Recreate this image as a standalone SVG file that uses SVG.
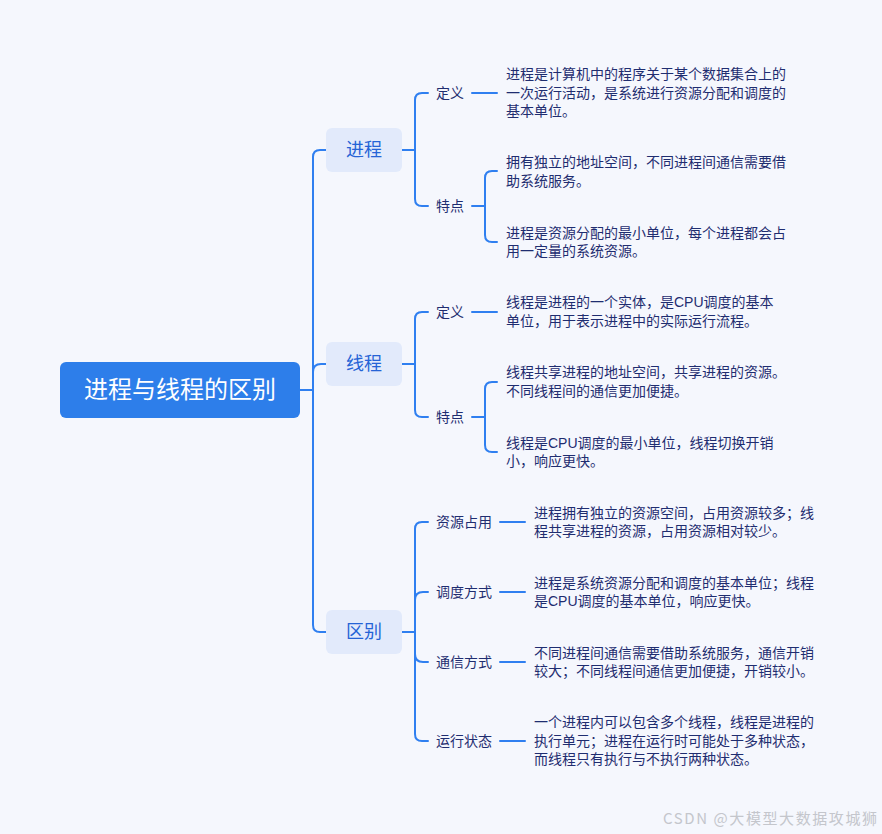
<svg xmlns="http://www.w3.org/2000/svg" width="882" height="834" viewBox="0 0 882 834">
<style>
.bg{fill:#f5f7fd}
.ln{fill:none;stroke:#2f7ff0;stroke-width:2;stroke-linecap:round}
.root{fill:#2d7eea}
.rt{fill:#ffffff;font-family:"Noto Sans CJK SC","Noto Sans",sans-serif;font-size:24px}
.br{fill:#e2eafb}
.bt{fill:#2563d6;font-family:"Noto Sans CJK SC","Noto Sans",sans-serif;font-size:18px}
.lb{fill:#1f2d70;font-family:"Noto Sans CJK SC","Noto Sans",sans-serif;font-size:14px}
.tx{fill:#1f2d70;font-family:"Liberation Sans","Noto Sans CJK SC",sans-serif;font-size:14px}
.wm{fill:#c4c6cc;font-family:"Noto Sans CJK SC","Noto Sans",sans-serif;font-size:15px}
</style>
<rect class="bg" x="0" y="0" width="882" height="834"/>
<g id="connectors">
<path class="ln" d="M300 390 H313"/>
<path class="ln" d="M326 150 H320 Q313 150 313 157 V625 Q313 632 320 632 H326"/>
<path class="ln" d="M313 372 Q313 364 321 364 H326"/>
<path class="ln" d="M402 150 H415"/>
<path class="ln" d="M428 93 H422 Q415 93 415 100 V199 Q415 206 422 206 H428"/>
<path class="ln" d="M472 93 H497"/>
<path class="ln" d="M472 206 H485"/>
<path class="ln" d="M497 171 H492 Q485 171 485 178 V235 Q485 242 492 242 H497"/>
<path class="ln" d="M402 364 H415"/>
<path class="ln" d="M428 312 H422 Q415 312 415 319 V410 Q415 417 422 417 H428"/>
<path class="ln" d="M472 312 H497"/>
<path class="ln" d="M472 417 H485"/>
<path class="ln" d="M497 382 H492 Q485 382 485 389 V445 Q485 452 492 452 H497"/>
<path class="ln" d="M402 632 H415"/>
<path class="ln" d="M428 522 H422 Q415 522 415 529 V734 Q415 741 422 741 H428"/>
<path class="ln" d="M415 600 Q415 592 423 592 H428"/>
<path class="ln" d="M415 654 Q415 662 423 662 H428"/>
<path class="ln" d="M500 522 H525"/>
<path class="ln" d="M500 592 H525"/>
<path class="ln" d="M500 662 H525"/>
<path class="ln" d="M500 741 H525"/>
</g>
<g id="root">
<rect class="root" x="60" y="362" width="240" height="56" rx="6"/>
<text class="rt" x="180" y="398" text-anchor="middle">进程与线程的区别</text>
</g>
<g id="n-process">
<rect class="br" x="326" y="128" width="76" height="44" rx="6"/>
<text class="bt" x="364" y="156" text-anchor="middle">进程</text>
</g>
<g id="n-process-def">
<text class="lb" x="436" y="98">定义</text>
<text class="tx"><tspan x="506" y="79">进程是计算机中的程序关于某个数据集合上的</tspan><tspan x="506" y="98">一次运行活动，是系统进行资源分配和调度的</tspan><tspan x="506" y="116">基本单位。</tspan></text>
</g>
<g id="n-process-feat">
<text class="lb" x="436" y="211">特点</text>
<text class="tx"><tspan x="506" y="167">拥有独立的地址空间，不同进程间通信需要借</tspan><tspan x="506" y="186">助系统服务。</tspan></text>
<text class="tx"><tspan x="506" y="238">进程是资源分配的最小单位，每个进程都会占</tspan><tspan x="506" y="256">用一定量的系统资源。</tspan></text>
</g>
<g id="n-thread">
<rect class="br" x="326" y="342" width="76" height="44" rx="6"/>
<text class="bt" x="364" y="370" text-anchor="middle">线程</text>
</g>
<g id="n-thread-def">
<text class="lb" x="436" y="317">定义</text>
<text class="tx"><tspan x="506" y="307">线程是进程的一个实体，是CPU调度的基本</tspan><tspan x="506" y="326">单位，用于表示进程中的实际运行流程。</tspan></text>
</g>
<g id="n-thread-feat">
<text class="lb" x="436" y="422">特点</text>
<text class="tx"><tspan x="506" y="377">线程共享进程的地址空间，共享进程的资源。</tspan><tspan x="506" y="396">不同线程间的通信更加便捷。</tspan></text>
<text class="tx"><tspan x="506" y="448">线程是CPU调度的最小单位，线程切换开销</tspan><tspan x="506" y="466">小，响应更快。</tspan></text>
</g>
<g id="n-diff">
<rect class="br" x="326" y="610" width="76" height="44" rx="6"/>
<text class="bt" x="364" y="638" text-anchor="middle">区别</text>
</g>
<g id="n-diff-res">
<text class="lb" x="436" y="527">资源占用</text>
<text class="tx"><tspan x="534" y="518">进程拥有独立的资源空间，占用资源较多；线</tspan><tspan x="534" y="536">程共享进程的资源，占用资源相对较少。</tspan></text>
</g>
<g id="n-diff-sched">
<text class="lb" x="436" y="597">调度方式</text>
<text class="tx"><tspan x="534" y="588">进程是系统资源分配和调度的基本单位；线程</tspan><tspan x="534" y="606">是CPU调度的基本单位，响应更快。</tspan></text>
</g>
<g id="n-diff-comm">
<text class="lb" x="436" y="667">通信方式</text>
<text class="tx"><tspan x="534" y="658">不同进程间通信需要借助系统服务，通信开销</tspan><tspan x="534" y="676">较大；不同线程间通信更加便捷，开销较小。</tspan></text>
</g>
<g id="n-diff-state">
<text class="lb" x="436" y="746">运行状态</text>
<text class="tx"><tspan x="534" y="727">一个进程内可以包含多个线程，线程是进程的</tspan><tspan x="534" y="746">执行单元；进程在运行时可能处于多种状态，</tspan><tspan x="534" y="764">而线程只有执行与不执行两种状态。</tspan></text>
</g>
<text class="wm" x="663" y="824" textLength="214" lengthAdjust="spacing">CSDN @大模型大数据攻城狮</text>
</svg>
